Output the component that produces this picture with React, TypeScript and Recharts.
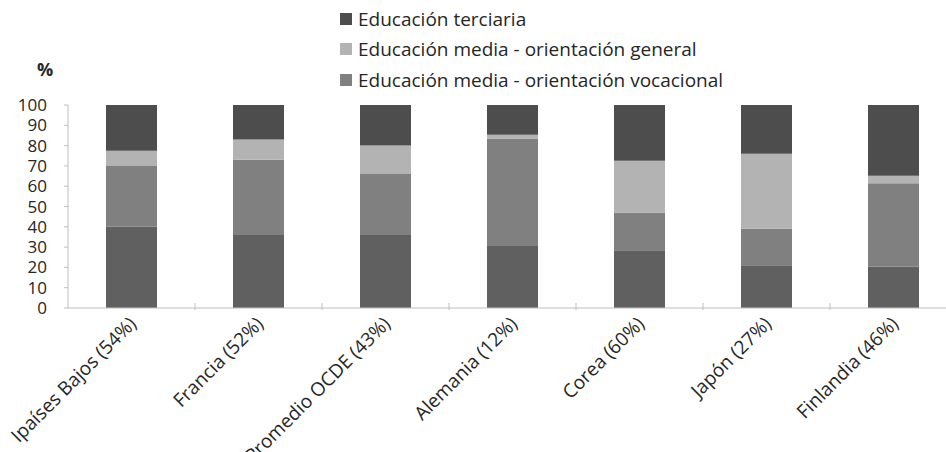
import React from 'react';
import { BarChart, Bar, XAxis, YAxis } from 'recharts';

const categories = [
  'Ipaíses Bajos (54%)',
  'Francia (52%)',
  'Promedio OCDE (43%)',
  'Alemania (12%)',
  'Corea (60%)',
  'Japón (27%)',
  'Finlandia (46%)',
];
const base = [40, 36, 36, 30.5, 28.5, 21, 20.5];
const vocacional = [30, 37, 30, 53, 18.5, 18, 41];
const general = [7.5, 10, 14, 1.8, 25.5, 37, 3.7];
const terciaria = [22.5, 17, 20, 14.7, 27.5, 24, 34.8];
const yTicks = [0, 10, 20, 30, 40, 50, 60, 70, 80, 90, 100];

const data = categories.map((name, i) => ({
  name,
  base: base[i],
  vocacional: vocacional[i],
  general: general[i],
  terciaria: terciaria[i],
}));

const FONT = '"Open Sans", sans-serif';
const CHART_W = 960;
const Y_W = 68;
const M_RIGHT = 3;
const BAND = (CHART_W - Y_W - M_RIGHT) / categories.length;

const legendItems = [
  { label: 'Educación terciaria', color: '#4d4d4d', top: 6 },
  { label: 'Educación media - orientación general', color: '#b3b3b3', top: 36 },
  { label: 'Educación media - orientación vocacional', color: '#808080', top: 67 },
];

function LegendBox() {
  return (
    <>
      {legendItems.map((it) => (
        <div
          key={it.label}
          style={{
            position: 'absolute',
            left: 340,
            top: it.top,
            display: 'flex',
            alignItems: 'center',
            height: 26,
            fontFamily: FONT,
            fontSize: 19,
            color: '#262626',
            whiteSpace: 'nowrap',
          }}
        >
          <span style={{ width: 12, height: 12, background: it.color, marginRight: 6, display: 'inline-block' }} />
          {it.label}
        </div>
      ))}
    </>
  );
}

function XTick(props: any) {
  const { x, y, payload } = props;
  return (
    <g>
      <line x1={x + BAND / 2} x2={x + BAND / 2} y1={y - 7} y2={y} stroke="#bfbfbf" />
      <text
        transform={`translate(${x + 6},${y + 15}) rotate(-45)`}
        textAnchor="end"
        fontFamily={FONT}
        fontSize={19}
        fill="#262626"
      >
        {payload.value}
      </text>
    </g>
  );
}

export default function App() {
  return (
    <div style={{ position: 'absolute', left: 0, top: 0, width: 946, height: 452, overflow: 'hidden', background: '#fff' }}>
      <div style={{ position: 'absolute', left: 37, top: 57, fontFamily: FONT, fontSize: 18, fontWeight: 'bold', color: '#262626' }}>
        %
      </div>
      <LegendBox />
      <BarChart
        width={CHART_W}
        height={452}
        data={data}
        margin={{ top: 105, right: M_RIGHT, bottom: 0, left: 0 }}
        barSize={51}
      >
        <XAxis
          dataKey="name"
          interval={0}
          height={144}
          tickSize={0}
          tickLine={false}
          stroke="#bfbfbf"
          tick={<XTick />}
        />
        <YAxis
          width={Y_W}
          domain={[0, 100]}
          ticks={yTicks}
          interval={0}
          tickSize={4}
          tickMargin={17}
          stroke="#bfbfbf"
          tick={{ fontFamily: FONT, fontSize: 17, fill: '#262626' }}
        />
        <Bar dataKey="base" stackId="a" fill="#606060" isAnimationActive={false} />
        <Bar dataKey="vocacional" stackId="a" fill="#808080" isAnimationActive={false} />
        <Bar dataKey="general" stackId="a" fill="#b3b3b3" isAnimationActive={false} />
        <Bar dataKey="terciaria" stackId="a" fill="#4d4d4d" isAnimationActive={false} />
      </BarChart>
    </div>
  );
}
